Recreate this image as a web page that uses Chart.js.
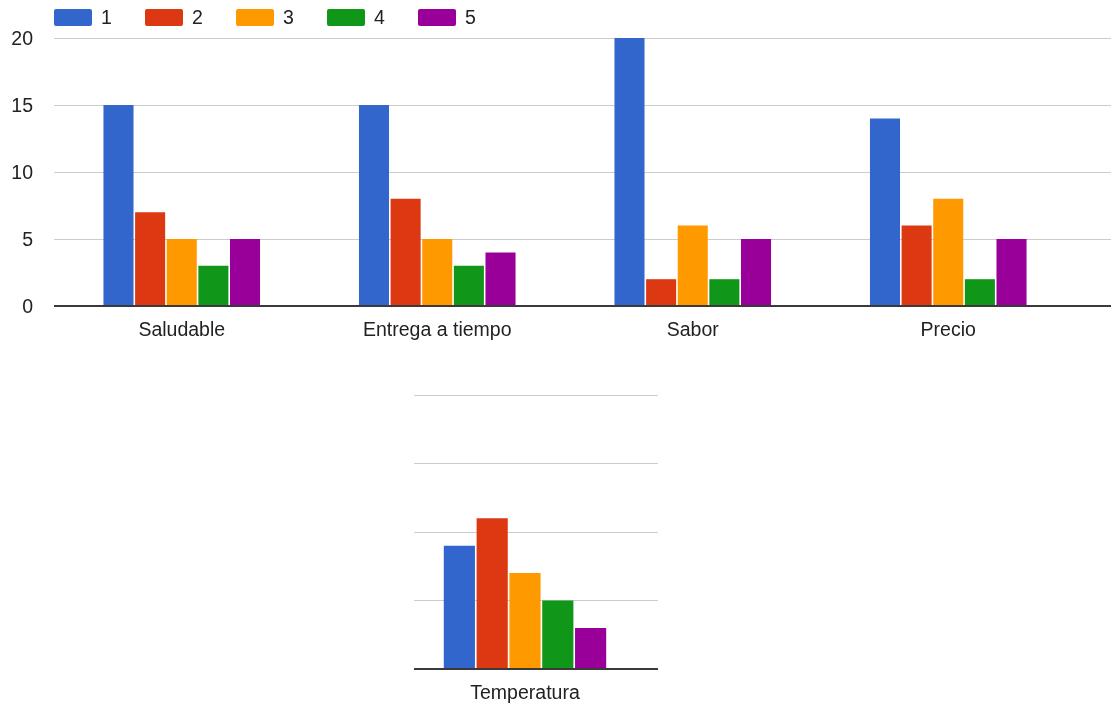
<!DOCTYPE html>
<html>
<head>
<meta charset="utf-8">
<title>Encuesta</title>
<script src="https://cdn.jsdelivr.net/npm/chart.js@4.4.1/dist/chart.umd.min.js"></script>
<style>
  body { margin: 0; background: #fff; font-family: Arial, "Liberation Sans", sans-serif; }
  #wrap { position: relative; width: 1111px; height: 706px; }
  #top { position: absolute; left: 0; top: 0; }
  #bottom { position: absolute; left: 0; top: 350px; }
  #legend { position: absolute; left: 54px; top: 7px; display: flex; }
  .item { width: 91px; height: 20px; display: flex; align-items: center; font-size: 19.5px; color: #222; }
  .box { width: 38px; height: 17px; border-radius: 2px; margin-right: 9px; }
</style>
</head>
<body>
<div id="wrap">
  <canvas id="top" width="1111" height="350"></canvas>
  <canvas id="bottom" width="1111" height="356"></canvas>
  <div id="legend"></div>
</div>
<script>
const categories = ["Saludable", "Entrega a tiempo", "Sabor", "Precio", "Temperatura"];
const seriesNames = ["1", "2", "3", "4", "5"];
const seriesColors = ["#3366cc", "#dc3912", "#ff9900", "#109618", "#990099"];
const votes1 = [15, 15, 20, 14, 9];
const votes2 = [7, 8, 2, 6, 11];
const votes3 = [5, 5, 6, 8, 7];
const votes4 = [3, 3, 2, 2, 5];
const votes5 = [5, 4, 5, 5, 3];
const yTicks = [0, 5, 10, 15, 20];

const allVotes = [votes1, votes2, votes3, votes4, votes5];

Chart.defaults.font.family = 'Arial, "Liberation Sans", sans-serif';
Chart.defaults.font.size = 19.5;
Chart.defaults.color = "#222";

// same rounding Chart.js uses for its own grid lines
function crisp(p, w) {
  return Math.round(p - w / 2) + w / 2;
}

// light grid lines run past the last category, dark zero line goes over the bar feet
const axisLines = {
  id: "axisLines",
  beforeDatasetsDraw(chart, args, opts) {
    const { ctx, chartArea, scales: { y } } = chart;
    ctx.save();
    ctx.strokeStyle = "#cccccc";
    ctx.lineWidth = 1;
    y.ticks.forEach((t) => {
      if (t.value === 0) return;
      const py = crisp(y.getPixelForValue(t.value), 1);
      ctx.beginPath();
      ctx.moveTo(chartArea.right, py);
      ctx.lineTo(opts.extendTo, py);
      ctx.stroke();
    });
    ctx.restore();
  },
  afterDatasetsDraw(chart, args, opts) {
    const { ctx, chartArea, scales: { y } } = chart;
    const py = crisp(y.getPixelForValue(0), 2);
    ctx.save();
    ctx.strokeStyle = "#3a3a3a";
    ctx.lineWidth = 2;
    ctx.beginPath();
    ctx.moveTo(chartArea.left, py);
    ctx.lineTo(opts.extendTo, py);
    ctx.stroke();
    ctx.restore();
  },
};

function renderLegend() {
  const legend = document.getElementById("legend");
  seriesNames.forEach((name, i) => {
    const item = document.createElement("div");
    item.className = "item";
    const box = document.createElement("span");
    box.className = "box";
    box.style.background = seriesColors[i];
    item.appendChild(box);
    item.appendChild(document.createTextNode(name));
    legend.appendChild(item);
  });
}

function renderChart(canvasId, from, to, cfg) {
  return new Chart(document.getElementById(canvasId), {
    type: "bar",
    data: {
      labels: categories.slice(from, to),
      datasets: seriesNames.map((name, i) => ({
        label: name,
        data: allVotes[i].slice(from, to),
        backgroundColor: seriesColors[i],
        categoryPercentage: cfg.groupWidth,
        barPercentage: 0.95,
      })),
    },
    options: {
      responsive: false,
      animation: false,
      layout: { padding: cfg.padding },
      plugins: {
        legend: { display: false },
        tooltip: { enabled: false },
        axisLines: { extendTo: cfg.extendTo },
      },
      scales: {
        x: {
          grid: { display: false, drawTicks: false },
          border: { display: false },
          ticks: { padding: 13, maxRotation: 0, autoSkip: false },
          afterFit(scale) {
            scale.height = cfg.xHeight;
          },
        },
        y: {
          min: 0,
          max: 20,
          border: { display: false },
          grid: {
            drawTicks: false,
            color: (ctx) => (ctx.tick && ctx.tick.value === 0 ? "rgba(0,0,0,0)" : "#cccccc"),
          },
          ticks: { display: cfg.yLabels, padding: 21, labelOffset: 2 },
          afterBuildTicks(scale) {
            scale.ticks = yTicks.map((v) => ({ value: v }));
          },
          afterFit(scale) {
            scale.width = cfg.yWidth;
          },
        },
      },
    },
    plugins: [axisLines],
  });
}

renderLegend();

renderChart("top", 0, 4, {
  groupWidth: 0.619,
  padding: { left: 0, right: 35, top: 38, bottom: 0 },
  extendTo: 1111,
  xHeight: 44,
  yWidth: 54,
  yLabels: true,
});

renderChart("bottom", 4, 5, {
  groupWidth: 0.739,
  padding: { left: 414, right: 475, top: 45, bottom: 0 },
  extendTo: 658,
  xHeight: 37,
  yWidth: 0,
  yLabels: false,
});
</script>
</body>
</html>
